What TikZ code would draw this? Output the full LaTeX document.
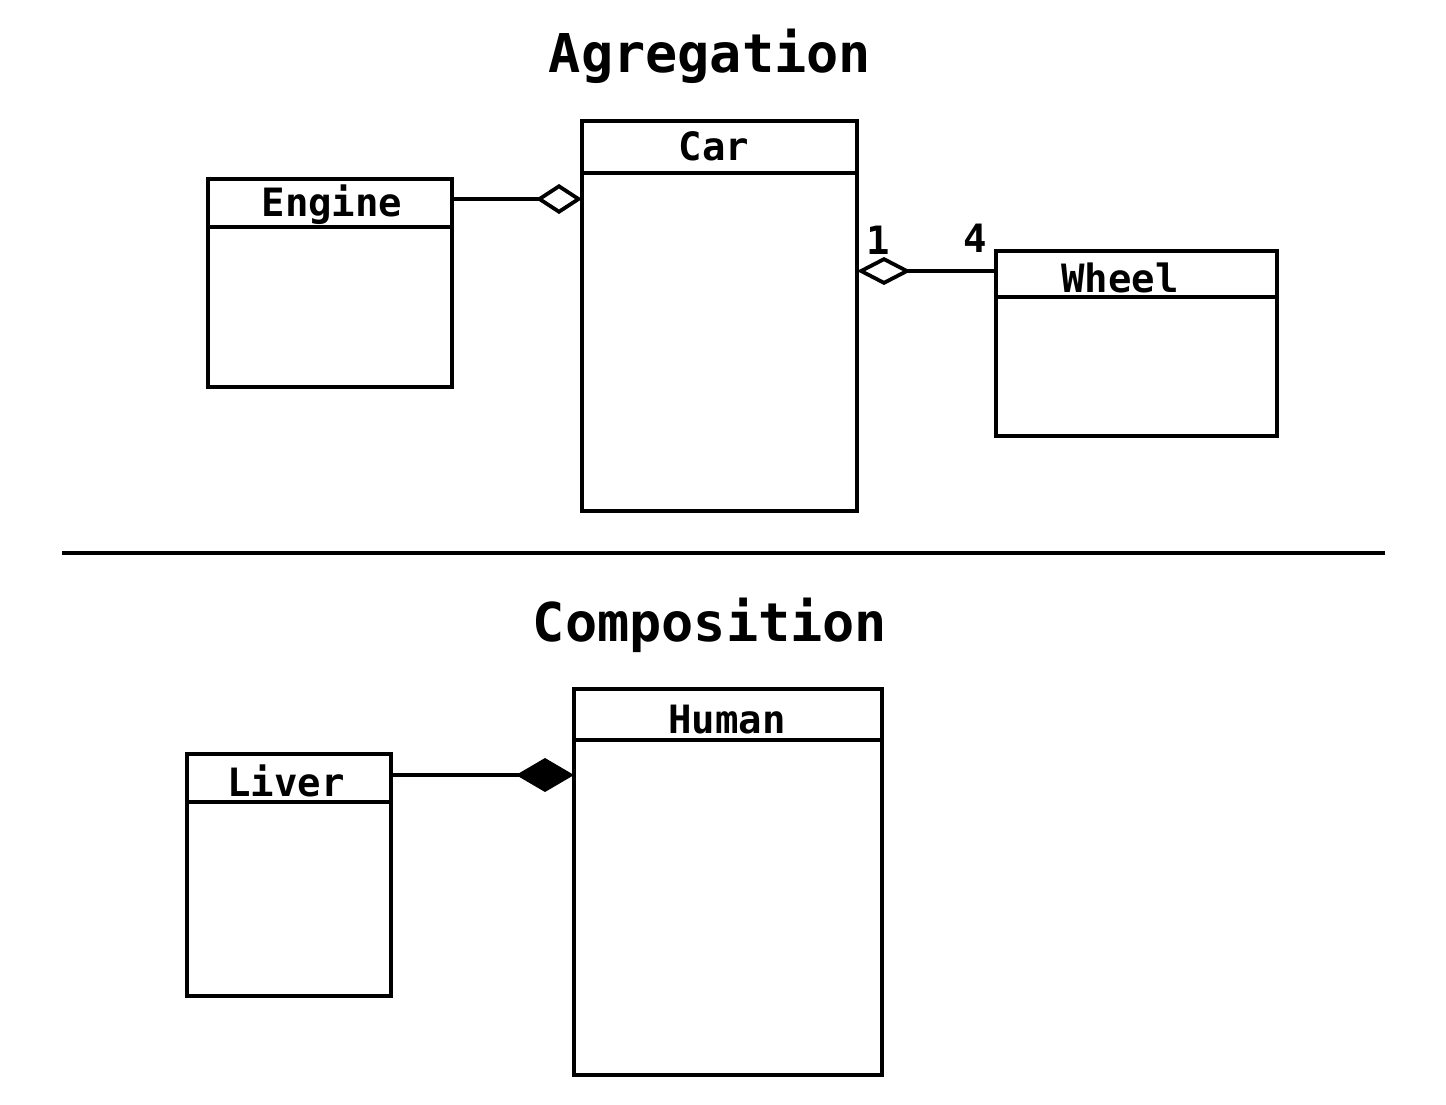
\documentclass[tikz,border=0pt]{standalone}
\usepackage{fontspec}
\newfontfamily\diagfont{DejaVu Sans Mono}
\usetikzlibrary{arrows.meta}
\begin{document}
\begin{tikzpicture}[x=1pt,y=-1pt,
  classbox/.style={draw, line width=4.3pt, rectangle, outer sep=0pt, inner sep=0pt, anchor=north west},
  hdr/.style={line width=4.3pt},
  lbl/.style={font=\diagfont\bfseries\fontsize{39}{39}\selectfont, anchor=base, inner sep=0pt},
  ttl/.style={font=\diagfont\bfseries\fontsize{53.5}{53.5}\selectfont, anchor=base, inner sep=0pt},
  conn/.style={line width=3.8pt, line join=miter},
  agg/.style={conn, -{Diamond[open, length=46pt, width=30pt, line width=3.8pt]}},
  aggwide/.style={conn, -{Diamond[open, length=54pt, width=28pt, line width=3.8pt]}},
  comp/.style={conn, -{Diamond[length=58pt, width=34pt]}}
]
\useasboundingbox (0,0) rectangle (1446,1104);

% titles
\node[ttl] (tagg) at (710,72) {Agregation};
\node[ttl] (tcomp) at (710,641) {Composition};

% separator
\coordinate (sepL) at (62,553);
\coordinate (sepR) at (1385,553);
\draw[line width=4.3pt] (sepL) -- (sepR);

% Engine
\node[classbox, minimum width=244pt, minimum height=208pt] (engine) at (208,179) {};
\draw[hdr] (engine.west |- 0,227) -- (engine.east |- 0,227);
\node[lbl] (engineL) at (332,216) {Engine};

% Car
\node[classbox, minimum width=275pt, minimum height=390pt] (car) at (582,121) {};
\draw[hdr] (car.west |- 0,173) -- (car.east |- 0,173);
\node[lbl] (carL) at (714,160) {Car};

% Wheel
\node[classbox, minimum width=281pt, minimum height=185pt] (wheel) at (996,251) {};
\draw[hdr] (wheel.west |- 0,297) -- (wheel.east |- 0,297);
\node[lbl] (wheelL) at (1120,292) {Wheel};

% Liver
\node[classbox, minimum width=204pt, minimum height=242pt] (liver) at (187,754) {};
\draw[hdr] (liver.west |- 0,802) -- (liver.east |- 0,802);
\node[lbl] (liverL) at (286,796) {Liver};

% Human
\node[classbox, minimum width=308pt, minimum height=386pt] (human) at (574,689) {};
\draw[hdr] (human.west |- 0,740) -- (human.east |- 0,740);
\node[lbl] (humanL) at (727,733) {Human};

% connectors
\draw[agg] (engine.east |- 0,199) -- (car.west |- 0,199);
\draw[aggwide] (wheel.west |- 0,271) -- (car.east |- 0,271);
\draw[comp] (liver.east |- 0,775) -- (human.west |- 0,775);

% multiplicities
\node[lbl] (m1) at (878,254) {1};
\node[lbl] (m4) at (975,252) {4};
\end{tikzpicture}
\end{document}
